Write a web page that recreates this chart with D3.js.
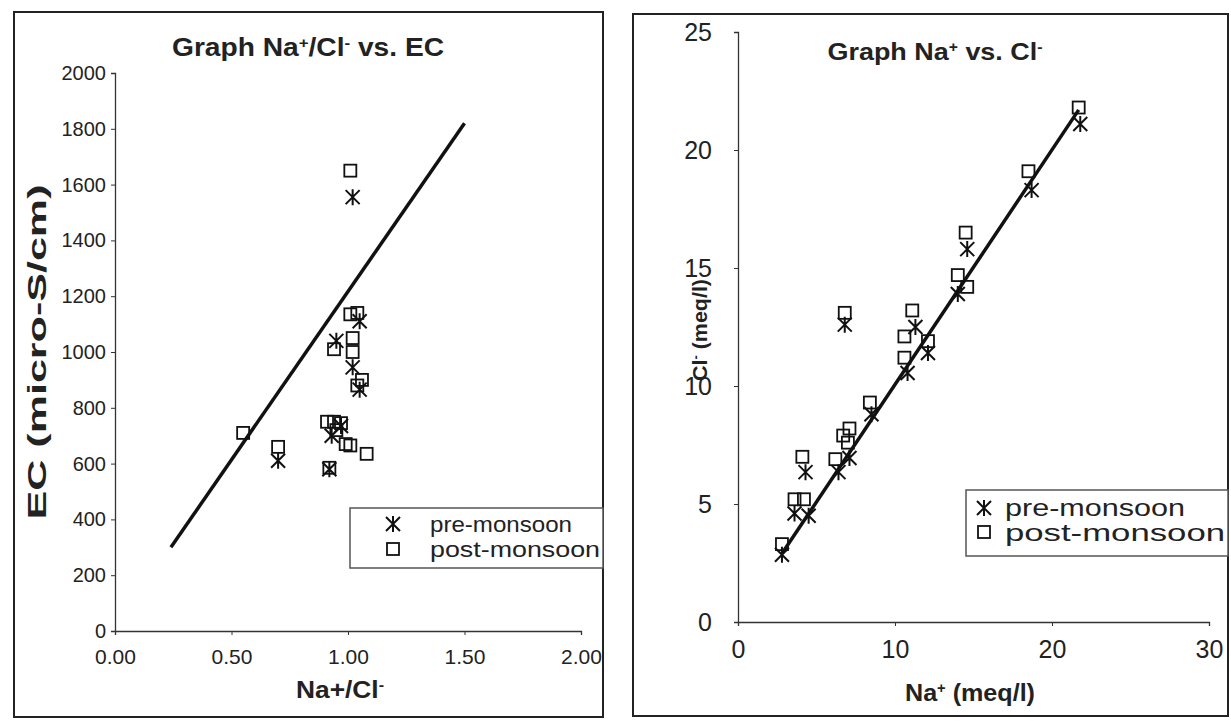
<!DOCTYPE html>
<html>
<head>
<script src="https://d3js.org/d3.v7.min.js"></script>
<style>
body{margin:0;background:#fff;}
text{font-family:"Liberation Sans",Arial,sans-serif;fill:#222;}
</style>
</head>
<body>
<script>
// left chart: Na+/Cl- ratio vs EC
var ratioTicks = [0, 0.5, 1, 1.5, 2];
var ecTicks = [0, 200, 400, 600, 800, 1000, 1200, 1400, 1600, 1800, 2000];
var preRatio = [0.70, 1.02, 1.05, 0.95, 1.02, 1.05, 0.93, 0.92, 0.97];
var preEC    = [610, 1555, 1110, 1040, 945, 865, 700, 580, 735];
var postRatio = [0.55, 0.70, 1.01, 1.01, 1.04, 1.02, 1.02, 0.94, 1.06, 1.04, 0.91, 0.94, 0.97, 0.95, 0.99, 1.01, 1.08, 0.92];
var postEC    = [710, 660, 1650, 1135, 1140, 1050, 1000, 1010, 900, 880, 750, 750, 745, 720, 670, 665, 635, 585];
var leftLineX = [0.24, 1.50];
var leftLineY = [300, 1820];

// right chart: Na+ vs Cl-
var naTicks = [0, 10, 20, 30];
var clTicks = [0, 5, 10, 15, 20, 25];
var preNa = [2.8, 3.6, 4.5, 4.3, 6.4, 7.1, 6.8, 8.5, 10.8, 11.3, 12.1, 14.0, 14.6, 18.7, 21.8];
var preCl = [2.85, 4.6, 4.5, 6.35, 6.35, 6.95, 12.6, 8.8, 10.55, 12.5, 11.4, 13.9, 15.8, 18.3, 21.1];
var postNa = [2.8, 3.6, 4.2, 4.1, 6.2, 6.7, 7.1, 7.0, 6.8, 8.4, 10.6, 10.6, 11.1, 12.1, 14.0, 14.5, 14.6, 18.5, 21.7];
var postCl = [3.3, 5.2, 5.2, 7.0, 6.9, 7.9, 8.2, 7.6, 13.1, 9.3, 12.1, 11.2, 13.2, 11.9, 14.7, 16.5, 14.2, 19.1, 21.8];
var rightLineX = [2.8, 21.7];
var rightLineY = [2.9, 21.7];

var W = 1231, H = 721;
var svg = d3.select("body").append("svg").attr("width", W).attr("height", H);

// panel frames
svg.append("rect").attr("x", 14).attr("y", 12).attr("width", 589).attr("height", 705)
  .attr("fill", "none").attr("stroke", "#222").attr("stroke-width", 2);
svg.append("rect").attr("x", 633).attr("y", 14).attr("width", 595).attr("height", 702)
  .attr("fill", "none").attr("stroke", "#222").attr("stroke-width", 2);

function star(g, x, y){
  var s = 7;
  g.append("path")
    .attr("d", "M"+(x-s)+","+(y-s)+"L"+(x+s)+","+(y+s)+"M"+(x+s)+","+(y-s)+"L"+(x-s)+","+(y+s)+"M"+x+","+(y-s-1)+"L"+x+","+(y+s+1))
    .attr("stroke", "#111").attr("stroke-width", 2).attr("fill", "none");
}
function square(g, x, y){
  g.append("rect").attr("x", x-6).attr("y", y-6).attr("width", 12).attr("height", 12)
    .attr("fill", "none").attr("stroke", "#111").attr("stroke-width", 1.8);
}

function styleAxis(ax, size){
  ax.select(".domain").attr("stroke", "#333").attr("stroke-width", 1.3);
  ax.selectAll(".tick line").attr("stroke", "#333");
  ax.selectAll("text").style("font-size", size + "px").attr("fill", "#333");
}

// text with super-script parts; parts = [[text, isSup], ...]
function label(x, y, parts, size, bold, len, rot){
  var t = svg.append("text").attr("text-anchor", "middle")
    .style("font-size", size + "px").style("font-weight", bold ? "bold" : "normal");
  if (rot) t.attr("transform", "translate(" + x + "," + y + ") rotate(-90)");
  else t.attr("x", x).attr("y", y);
  parts.forEach(function(p){
    var s = t.append("tspan").text(p[0]);
    if (p[1]) s.attr("baseline-shift", "super").style("font-size", Math.round(size * 0.6) + "px");
  });
  if (len) t.attr("textLength", len).attr("lengthAdjust", "spacingAndGlyphs");
  return t;
}

// ---------- left ----------
var xL = d3.scaleLinear().domain([0, 2]).range([115, 581]);
var yL = d3.scaleLinear().domain([0, 2000]).range([631, 73]);

var gxL = svg.append("g").attr("transform", "translate(0," + yL(0) + ")")
  .call(d3.axisBottom(xL).tickValues(ratioTicks).tickFormat(d3.format(".2f")).tickSize(4).tickPadding(14));
styleAxis(gxL, 21);
var gyL = svg.append("g").attr("transform", "translate(" + xL(0) + ",0)")
  .call(d3.axisLeft(yL).tickValues(ecTicks).tickFormat(d3.format("d")).tickSize(4).tickPadding(5));
styleAxis(gyL, 20);

svg.append("line")
  .attr("x1", xL(leftLineX[0])).attr("y1", yL(leftLineY[0]))
  .attr("x2", xL(leftLineX[1])).attr("y2", yL(leftLineY[1]))
  .attr("stroke", "#111").attr("stroke-width", 3.5);

var ptsL = svg.append("g");
postRatio.forEach(function(d, i){ square(ptsL, xL(d), yL(postEC[i])); });
preRatio.forEach(function(d, i){ star(ptsL, xL(d), yL(preEC[i])); });

label(308, 56, [["Graph Na"], ["+", 1], ["/Cl"], ["-", 1], [" vs. EC"]], 25, true, 272);
label(46, 352, [["EC (micro-S/cm)"]], 25, true, 335, true);
label(340, 698, [["Na+/Cl"], ["-", 1]], 23, true, 88);

// left legend
var lgL = svg.append("g");
lgL.append("rect").attr("x", 350).attr("y", 508).attr("width", 253).attr("height", 60)
  .attr("fill", "#fff").attr("stroke", "#555").attr("stroke-width", 1.5);
star(lgL, 393, 524);
square(lgL, 393, 549);
lgL.append("text").attr("x", 430).attr("y", 532).style("font-size", "22px")
  .attr("textLength", 142).attr("lengthAdjust", "spacingAndGlyphs").text("pre-monsoon");
lgL.append("text").attr("x", 430).attr("y", 557).style("font-size", "22px")
  .attr("textLength", 170).attr("lengthAdjust", "spacingAndGlyphs").text("post-monsoon");

// ---------- right ----------
var xR = d3.scaleLinear().domain([0, 30]).range([738, 1209]);
var yR = d3.scaleLinear().domain([0, 25]).range([622, 32]);

var gxR = svg.append("g").attr("transform", "translate(0," + yR(0) + ")")
  .call(d3.axisBottom(xR).tickValues(naTicks).tickSize(4).tickPadding(14));
styleAxis(gxR, 25);
var gyR = svg.append("g").attr("transform", "translate(" + xR(0) + ",0)")
  .call(d3.axisLeft(yR).tickValues(clTicks).tickSize(4).tickPadding(22));
styleAxis(gyR, 25);

svg.append("line")
  .attr("x1", xR(rightLineX[0])).attr("y1", yR(rightLineY[0]))
  .attr("x2", xR(rightLineX[1])).attr("y2", yR(rightLineY[1]))
  .attr("stroke", "#111").attr("stroke-width", 3.5);

var ptsR = svg.append("g");
postNa.forEach(function(d, i){ square(ptsR, xR(d), yR(postCl[i])); });
preNa.forEach(function(d, i){ star(ptsR, xR(d), yR(preCl[i])); });

label(935, 60, [["Graph Na"], ["+", 1], ["  vs. Cl"], ["-", 1]], 24, true, 215);
label(707, 330, [["Cl"], ["-", 1], [" (meq/l)"]], 20, true, 102, true);
label(970, 701, [["Na"], ["+", 1], [" (meq/l)"]], 24, true, 130);

// right legend
var lgR = svg.append("g");
lgR.append("rect").attr("x", 966).attr("y", 490).attr("width", 262).attr("height", 66)
  .attr("fill", "#fff").attr("stroke", "#555").attr("stroke-width", 1.5);
star(lgR, 984, 508);
square(lgR, 984, 532);
lgR.append("text").attr("x", 1005).attr("y", 516).style("font-size", "23px")
  .attr("textLength", 180).attr("lengthAdjust", "spacingAndGlyphs").text("pre-monsoon");
lgR.append("text").attr("x", 1005).attr("y", 541).style("font-size", "23px")
  .attr("textLength", 220).attr("lengthAdjust", "spacingAndGlyphs").text("post-monsoon");
</script>
</body>
</html>
